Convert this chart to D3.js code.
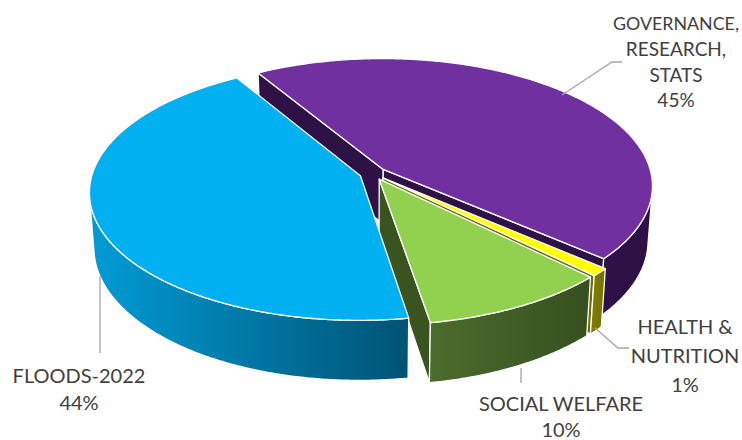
<!DOCTYPE html>
<html><head><meta charset="utf-8">
<script src="https://cdn.jsdelivr.net/npm/d3@7"></script>
<style>body{margin:0;background:#fff}</style>
</head><body>
<svg id="chart" width="742" height="440"></svg>
<script>
// ---------- data ----------
const categories = ["GOVERNANCE, RESEARCH, STATS", "HEALTH & NUTRITION", "SOCIAL WELFARE", "FLOODS-2022"];
const values = [45, 1, 10, 44];
const labelLines = [["GOVERNANCE,", "RESEARCH,", "STATS"], ["HEALTH &", "NUTRITION"], ["SOCIAL WELFARE"], ["FLOODS-2022"]];
const percentLabels = ["45%", "1%", "10%", "44%"];

// ---------- styles ----------
const topColors = ["#7030A0", "#FFFF00", "#92D050", "#00B0F0"];
const wallGrad = [["#2F1248", "#2B1043"], ["#808000", "#727200"], ["#4C6C2C", "#36501F"], ["#009CD6", "#005374"]];
const radialColors = ["#2E1246", "#6E6E00", "#3A5421", "#006C96"];

// ---------- layout ----------
const cfg = {cx: 373, cy: 173.5, alpha: 28 * Math.PI / 180, D: 7, f: 1876, h: 0.235, explode: 0.05, start: -31 * Math.PI / 180};
const labelPos = [
  {x: 676, y: 30, size: 19, maxW: 126, dy: [0, 26, 52, 77], leader: [[622, 62], [612, 62], [562, 95]]},
  {x: 685, y: 334, size: 20, maxW: 114, dy: [0, 29, 58], leader: [[595, 328], [618, 348], [629, 348]]},
  {x: 561, y: 411, size: 20, maxW: 200, dy: [0, 26], leader: [[521, 368], [521, 383]]},
  {x: 79, y: 383, size: 20, maxW: 150, dy: [0, 27], leader: [[100, 276], [100, 353]]}
];

const svg = d3.select("#chart");
const defs = svg.append("defs");
const sA = Math.sin(cfg.alpha), cA = Math.cos(cfg.alpha);
const cam = [0, cfg.D * sA, cfg.D * cA];

function proj(p) {
  const [x, y, z] = p;
  const sy = y * cA - z * sA;
  const depth = cfg.D - y * sA - z * cA;
  return [cfg.cx + cfg.f * x / depth, cfg.cy - cfg.f * sy / depth, depth];
}
function wp(r, th, y, off) { return [off[0] + r * Math.sin(th), y, off[1] - r * Math.cos(th)]; }
function dot(a, b) { return a[0] * b[0] + a[1] * b[1] + a[2] * b[2]; }
function sub(a, b) { return [a[0] - b[0], a[1] - b[1], a[2] - b[2]]; }
function pathOf(pts) { return "M" + pts.map(p => p[0].toFixed(2) + "," + p[1].toFixed(2)).join("L") + "Z"; }

const pie = d3.pie().sort(null).startAngle(cfg.start).endAngle(cfg.start + 2 * Math.PI);
const arcs = pie(values);
const H = -cfg.h;
const step = Math.PI / 360;

const walls = [], tops = [];
arcs.forEach((a, i) => {
  const mid = (a.startAngle + a.endAngle) / 2;
  const off = [cfg.explode * Math.sin(mid), -cfg.explode * Math.cos(mid)];
  const center = [off[0], 0, off[1]];
  // top face
  const topPts = [proj(center)];
  const n = Math.max(2, Math.ceil((a.endAngle - a.startAngle) / step));
  for (let k = 0; k <= n; k++) {
    const th = a.startAngle + (a.endAngle - a.startAngle) * k / n;
    topPts.push(proj(wp(1, th, 0, off)));
  }
  tops.push({i, d: pathOf(topPts), depth: proj(wp(0.5, mid, 0, off))[2]});
  // radial walls
  [[a.startAngle, -1], [a.endAngle, 1]].forEach(([th, sgn]) => {
    const nrm = [sgn * Math.cos(th), 0, sgn * Math.sin(th)];
    const pm = wp(0.5, th, H / 2, off);
    if (dot(nrm, sub(cam, pm)) > 0) {
      const pts = [proj(center), proj(wp(1, th, 0, off)), proj(wp(1, th, H, off)), proj([off[0], H, off[1]])];
      walls.push({i, kind: "radial", d: pathOf(pts), depth: proj(pm)[2]});
    }
  });
  // outer curved wall: visible part
  const vis = [];
  const m = Math.ceil((a.endAngle - a.startAngle) / (Math.PI / 1440));
  for (let k = 0; k <= m; k++) {
    const th = a.startAngle + (a.endAngle - a.startAngle) * k / m;
    const nrm = [Math.sin(th), 0, -Math.cos(th)];
    if (dot(nrm, sub(cam, wp(1, th, 0, off))) > 0) vis.push(th);
  }
  if (vis.length > 1) {
    const v0 = vis[0], v1 = vis[vis.length - 1];
    const nn = Math.max(2, Math.ceil((v1 - v0) / step));
    const up = [], dn = [];
    for (let k = 0; k <= nn; k++) {
      const th = v0 + (v1 - v0) * k / nn;
      up.push(proj(wp(1, th, 0, off)));
      dn.push(proj(wp(1, th, H, off)));
    }
    const pts = up.concat(dn.reverse());
    const xs = pts.map(p => p[0]);
    walls.push({i, kind: "outer", d: pathOf(pts), depth: proj(wp(1, (v0 + v1) / 2, H / 2, off))[2],
      x0: d3.min(xs), x1: d3.max(xs)});
  }
});

// gradients
walls.filter(w => w.kind === "outer").forEach(w => {
  const g = defs.append("linearGradient").attr("id", "g" + w.i).attr("gradientUnits", "userSpaceOnUse")
    .attr("x1", w.x0).attr("x2", w.x1).attr("y1", 0).attr("y2", 0);
  g.append("stop").attr("offset", 0).attr("stop-color", wallGrad[w.i][0]);
  g.append("stop").attr("offset", 1).attr("stop-color", wallGrad[w.i][1]);
});

const g3 = svg.append("g").attr("stroke", "#fff").attr("stroke-width", 1.3).attr("stroke-linejoin", "round");
walls.sort((a, b) => b.depth - a.depth).forEach(w => {
  g3.append("path").attr("d", w.d)
    .attr("fill", w.kind === "outer" ? `url(#g${w.i})` : radialColors[w.i]);
});
tops.sort((a, b) => b.depth - a.depth).forEach(t => {
  g3.append("path").attr("d", t.d).attr("fill", topColors[t.i]);
});

// labels: one text element per line, shrunk if wider than allowed
const lg = svg.append("g");
labelPos.forEach((lp, i) => {
  lg.append("polyline").attr("points", lp.leader.map(p => p.join(",")).join(" "))
    .attr("fill", "none").attr("stroke", "#A6A6A6").attr("stroke-width", 1.3);
  labelLines[i].concat([percentLabels[i]]).forEach((s, k) => {
    const t = lg.append("text").attr("x", lp.x).attr("y", lp.y + lp.dy[k]).attr("text-anchor", "middle")
      .attr("font-family", "Lato, 'Open Sans', sans-serif").attr("font-size", lp.size).attr("fill", "#404040")
      .text(s);
    const w = t.node().getComputedTextLength();
    if (w > lp.maxW) t.attr("font-size", lp.size * lp.maxW / w);
  });
});
</script>
</body></html>
